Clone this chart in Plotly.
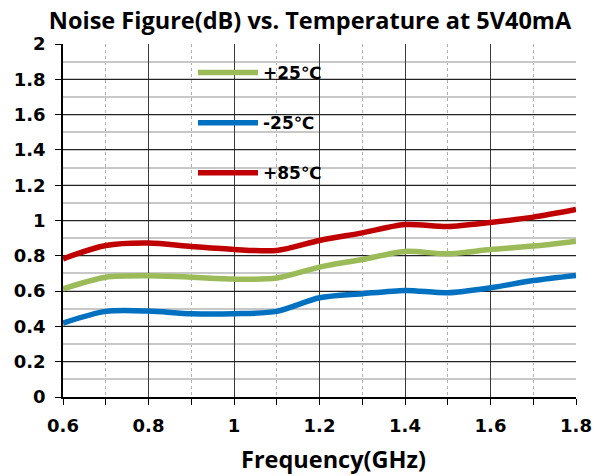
import plotly.graph_objects as go

freq = [0.6, 0.7, 0.8, 0.9, 1.0, 1.1, 1.2, 1.3, 1.4, 1.5, 1.6, 1.7, 1.8]
nf_p25 = [0.613, 0.679, 0.687, 0.679, 0.668, 0.674, 0.736, 0.779, 0.825, 0.811, 0.836, 0.855, 0.883]
nf_m25 = [0.419, 0.485, 0.487, 0.472, 0.472, 0.485, 0.562, 0.585, 0.604, 0.591, 0.619, 0.660, 0.689]
nf_p85 = [0.783, 0.858, 0.872, 0.853, 0.836, 0.830, 0.887, 0.930, 0.977, 0.966, 0.989, 1.019, 1.062]
series_names = ["+25℃", "-25℃", "+85℃"]
series_colors = ["#9BBB59", "#0070C0", "#C00000"]
x_ticks = [0.6, 0.8, 1.0, 1.2, 1.4, 1.6, 1.8]
x_ticktext = ["0.6", "0.8", "1", "1.2", "1.4", "1.6", "1.8"]
y_ticks = [0, 0.2, 0.4, 0.6, 0.8, 1.0, 1.2, 1.4, 1.6, 1.8, 2.0]
y_ticktext = ["0", "0.2", "0.4", "0.6", "0.8", "1", "1.2", "1.4", "1.6", "1.8", "2"]
x_title = "Frequency(GHz)"
chart_title = "Noise Figure(dB) vs. Temperature at 5V40mA"

fig = go.Figure()
for i, (name, vals, col) in enumerate(zip(series_names, [nf_p25, nf_m25, nf_p85], series_colors)):
    fig.add_trace(go.Scatter(x=freq, y=vals, mode="lines", name=name, legendgroup=f"g{i}",
                             line=dict(color=col, width=5.5, shape="spline", smoothing=0.8)))

W, H = 596, 476
PX0, PX1, PY0, PY1 = 63, 576, 44, 397  # plot area in page pixels
def px(x):
    return (x - PX0) / (PX1 - PX0)
def py(y):
    return (PY1 - y) / (PY1 - PY0)

# white box behind legend, covering gridlines
fig.add_shape(type="rect", xref="paper", yref="paper", layer="between",
              x0=px(178), x1=px(340), y0=py(197), y1=py(61),
              fillcolor="white", line=dict(width=0))

# x-axis title (placed slightly right of centre, as in the original)
fig.add_annotation(text=x_title, xref="paper", yref="paper", x=px(333), y=py(459),
                   xanchor="center", yanchor="middle", showarrow=False,
                   font=dict(family="Open Sans", size=23.5, color="black", weight="bold"))

tick_font = dict(family="DejaVu Sans", size=18, color="black", weight="bold")

fig.update_layout(
    width=W, height=H,
    margin=dict(l=PX0, r=W - PX1, t=PY0, b=H - PY1, autoexpand=False),
    paper_bgcolor="white", plot_bgcolor="white",
    title=dict(text=chart_title,
               font=dict(family="Open Sans", size=23.5, color="black", weight="bold"),
               x=(310) / W, xanchor="center", y=1 - 21 / H, yanchor="middle"),
    showlegend=True,
    legend=dict(x=px(193), y=py(55), xanchor="left", yanchor="top",
                bgcolor="rgba(0,0,0,0)", borderwidth=0, itemwidth=60,
                tracegroupgap=25,
                font=dict(family="DejaVu Sans", size=17, color="black", weight="bold")),
    xaxis=dict(range=[0.6, 1.8], tickvals=x_ticks, ticktext=x_ticktext, automargin=False,
               showline=True, linecolor="black", linewidth=1.5,
               showgrid=True, gridcolor="#3a3a3a", gridwidth=1, zeroline=False,
               ticks="outside", ticklen=6, tickcolor="black", ticklabelstandoff=6,
               tickfont=tick_font,
               minor=dict(dtick=0.1, showgrid=True, gridcolor="#b0b0b0", griddash="dot", gridwidth=1,
                          ticks="outside", ticklen=6, tickcolor="black")),
    yaxis=dict(range=[0, 2], tickvals=y_ticks, ticktext=y_ticktext, automargin=False,
               showline=True, linecolor="black", linewidth=1.5,
               showgrid=True, gridcolor="#222222", gridwidth=1, zeroline=False,
               ticks="outside", ticklen=6, tickcolor="black", ticklabelstandoff=6,
               tickfont=tick_font,
               minor=dict(dtick=0.1, showgrid=True, gridcolor="#c8c8c8", gridwidth=2)),
)

fig.write_html("out.html", config={"displayModeBar": False},
               post_script="document.body.style.margin='0px';document.body.style.overflow='hidden';")
